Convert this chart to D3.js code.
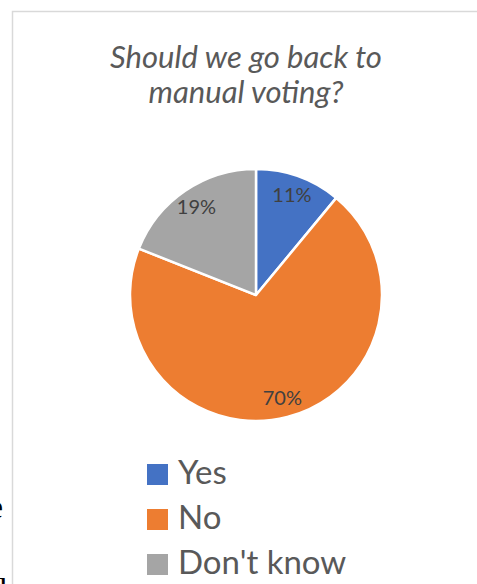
<!DOCTYPE html>
<html>
<head>
<meta charset="utf-8">
<script src="https://cdn.jsdelivr.net/npm/d3@7"></script>
<style>
  body { margin: 0; background: #fff; }
  svg { display: block; }
</style>
</head>
<body>
<svg id="chart" width="477" height="584"></svg>
<script>
// data
var categories = ["Yes", "No", "Don't know"];
var values = [11, 70, 19];
var colors = ["#4472C4", "#ED7D31", "#A5A5A5"];
var titleLines = ["Should we go back to", "manual voting?"];

var svg = d3.select('#chart');

// stray page text left of the chart frame
svg.append('text').attr('x', -12).attr('y', 518)
    .style('font-family', 'Liberation Serif').style('font-size', '34px')
    .style('fill', '#000').text('e');
svg.append('text').attr('x', -10).attr('y', 602)
    .style('font-family', 'Liberation Serif').style('font-size', '34px')
    .style('fill', '#000').text('d');

// chart frame
svg.append('rect').attr('x', 12.5).attr('y', 11.5).attr('width', 480).attr('height', 600)
    .style('fill', '#fff').style('stroke', '#D9D9D9').style('stroke-width', 1.5);

// title
svg.append('g').selectAll('text').data(titleLines).enter().append('text')
    .attr('x', 246).attr('y', function (d, i) { return 68 + i * 35; })
    .attr('text-anchor', 'middle')
    .style('font-family', 'Lato').style('font-style', 'italic').style('font-size', '31px')
    .style('fill', '#595959')
    .text(function (d) { return d; });

// pie
var cx = 256, cy = 295, r = 126;
var pie = d3.pie().sort(null).value(function (d) { return d; });
var arcs = pie(values);
var arc = d3.arc().innerRadius(0).outerRadius(r);
var labelArc = d3.arc().innerRadius(106).outerRadius(106);

var g = svg.append('g').attr('transform', 'translate(' + cx + ',' + cy + ')');
g.selectAll('path').data(arcs).enter().append('path')
    .attr('d', arc)
    .style('fill', function (d, i) { return colors[i]; })
    .style('stroke', '#fff').style('stroke-width', 2.5).style('stroke-linejoin', 'round');

g.selectAll('text.lbl').data(arcs).enter().append('text')
    .attr('class', 'lbl')
    .attr('transform', function (d) { return 'translate(' + labelArc.centroid(d) + ')'; })
    .attr('text-anchor', 'middle').attr('dy', '0.35em')
    .style('font-family', 'Lato').style('font-size', '20px').style('fill', '#404040')
    .text(function (d) { return d.data + '%'; });

// legend
var legend = svg.append('g').selectAll('g').data(categories).enter().append('g')
    .attr('transform', function (d, i) { return 'translate(147,' + (464 + i * 45) + ')'; });
legend.append('rect').attr('width', 21).attr('height', 21)
    .style('fill', function (d, i) { return colors[i]; });
legend.append('text').attr('x', 31).attr('y', 20)
    .style('font-family', 'Lato').style('font-size', '33px').style('fill', '#595959')
    .text(function (d) { return d; });
</script>
</body>
</html>
